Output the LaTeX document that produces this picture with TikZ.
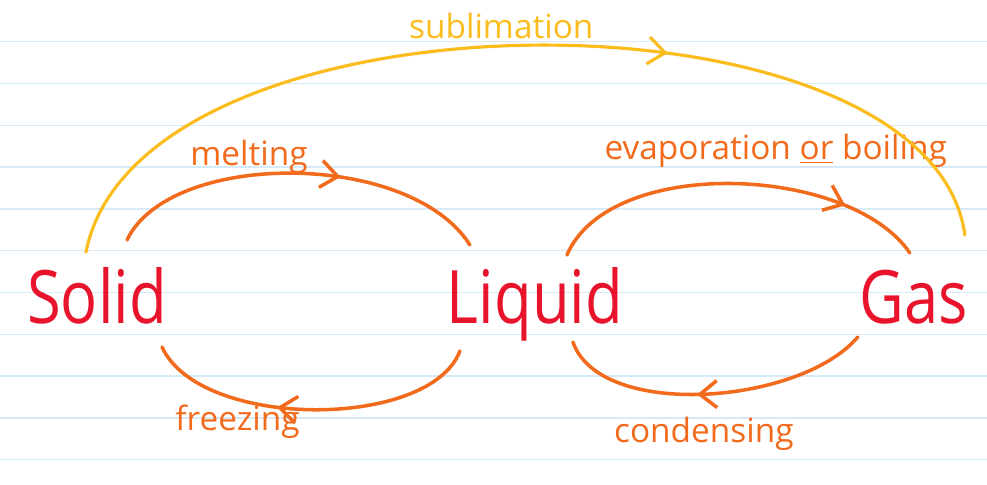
\documentclass[tikz,border=0pt]{standalone}
\usepackage{fontspec}
\setmainfont{Open Sans}
\usetikzlibrary{arrows.meta,decorations.markings}
\definecolor{phasered}{HTML}{E8142C}
\definecolor{changeorange}{HTML}{F26A1B}
\definecolor{sublyellow}{HTML}{FBBC1E}
\definecolor{ruleblue}{HTML}{D6EAF7}
\tikzstyle{state} = [inner sep=0pt, text=phasered, yscale=1.2,
    font=\fontsize{35}{40}\selectfont, text height=25pt, text depth=8pt]
\tikzstyle{change} = [line width=2pt, draw=changeorange, line cap=round]
\tikzstyle{skip} = [line width=1.8pt, draw=sublyellow, line cap=round]
\tikzstyle{phase} = [inner sep=0pt, font=\fontsize{19}{22}\selectfont]
\tikzstyle{ruling} = [line width=0.7pt, draw=ruleblue]
\tikzset{arrowat/.style={decoration={markings,
    mark=at position #1 with {\arrow{Straight Barb[length=3.4mm,width=5.4mm]}}},
    postaction={decorate}}}

\begin{document}
\begin{tikzpicture}[x=0.02cm, y=0.02cm]
\useasboundingbox (0,0) rectangle (987,-484);
\fill[white] (0,0) rectangle (987,-484);
\foreach \k in {0,...,10}
    \draw[ruling] (0,{-41.7-41.8*\k}) -- (987,{-41.7-41.8*\k});

\node (solid) [state] at (97,-306) {Solid};
\node (liquid) [state, node distance=8.76cm, right of=solid] {Liquid};
\node (gas) [state, node distance=7.58cm, right of=liquid] {Gas};

% solid <-> liquid
\draw [change, arrowat=0.61] ([shift={(30,66)}]solid.center)
    .. controls (170,-150) and (410,-150) .. node[phase, text=changeorange, pos=0.4, anchor=south] {melting}
    ([shift={(-65,61)}]liquid.center);
\draw [change, arrowat=0.6] ([shift={(-75,-45)}]liquid.center)
    .. controls (430,-430) and (200,-430) .. node[phase, text=changeorange, pos=0.7, anchor=north, yshift=-2pt] {freezing}
    ([shift={(65,-41)}]solid.center);

% liquid <-> gas
\draw [change, arrowat=0.79] ([shift={(32,51)}]liquid.center)
    .. controls (610,-155) and (850,-165) .. node[phase, text=changeorange, pos=0.6, anchor=south, yshift=10pt] {evaporation \underline{or} boiling}
    ([shift={(-4,53)}]gas.center);
\draw [change, arrowat=0.55] ([shift={(-56,-31)}]gas.center)
    .. controls (800,-405) and (600,-420) .. node[phase, text=changeorange, pos=0.5, anchor=north, yshift=-12pt] {condensing}
    ([shift={(38,-36)}]liquid.center);

% solid -> gas
\draw [skip, arrowat=0.64] ([shift={(-11,54)}]solid.center)
    .. controls (140,20) and (930,22) .. node[phase, text=sublyellow, pos=0.475, anchor=south, yshift=3pt] {sublimation}
    ([shift={(51,71)}]gas.center);
\end{tikzpicture}
\end{document}
